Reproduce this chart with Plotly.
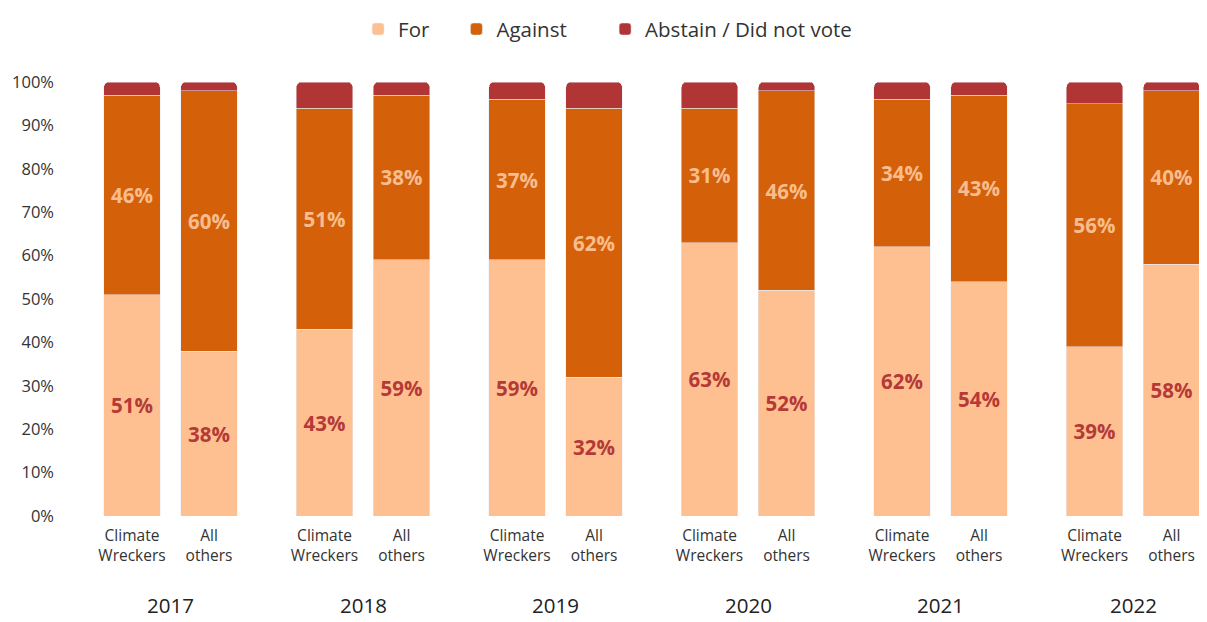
import plotly.graph_objects as go

years = ["2017", "2018", "2019", "2020", "2021", "2022"]
groups = ["Climate<br>Wreckers", "All<br>others"]

for_vals = [51, 38, 43, 59, 59, 32, 63, 52, 62, 54, 39, 58]
against_vals = [46, 60, 51, 38, 37, 62, 31, 46, 34, 43, 56, 40]
abstain_vals = [3, 2, 6, 3, 4, 6, 6, 2, 4, 3, 5, 2]

# positions: each year group holds two bars with a gap between groups
x_pos = []
tick_text = []
for gi, y in enumerate(years):
    for bi, g in enumerate(groups):
        x_pos.append(gi * 2.5 + bi)
        tick_text.append(g)

font_family = "Open Sans, Lato, sans-serif"
c_for = "#FFC091"
c_against = "#D5600A"
c_abstain = "#B23535"

fig = go.Figure()
fig.add_trace(go.Bar(
    x=x_pos, y=for_vals, name="For", marker_color=c_for,
    text=[f"{v}%" for v in for_vals], textposition="inside",
    insidetextanchor="middle",
    textfont=dict(color="#B53A37", size=20.5, family=font_family, weight="bold"),
    width=0.73, legend="legend", showlegend=True,
))
fig.add_trace(go.Bar(
    x=x_pos, y=against_vals, name="Against", marker_color=c_against,
    text=[f"{v}%" for v in against_vals], textposition="inside",
    insidetextanchor="middle",
    textfont=dict(color="#F8BD8E", size=20.5, family=font_family, weight="bold"),
    width=0.73, legend="legend2", showlegend=True,
))
fig.add_trace(go.Bar(
    x=x_pos, y=abstain_vals, name="Abstain / Did not vote", marker_color=c_abstain,
    width=0.73, legend="legend3", showlegend=True,
))

for gi, y in enumerate(years):
    fig.add_annotation(
        x=gi * 2.5 + 0.5, y=-0.205, xref="x", yref="paper",
        text=y, showarrow=False, yanchor="middle",
        font=dict(size=20.5, color="#222", family=font_family),
    )

def leg(xpos):
    return dict(
        orientation="h", x=xpos, xanchor="left", xref="container",
        y=0.998, yanchor="top", yref="container",
        font=dict(size=20.5, color="#333"),
    )

fig.update_layout(
    showlegend=True,
    barmode="stack",
    barcornerradius=5,
    width=1199, height=614,
    margin=dict(l=57, r=0, t=74, b=106, autoexpand=False),
    plot_bgcolor="white", paper_bgcolor="white",
    uniformtext=dict(minsize=10, mode="show"),
    font=dict(family=font_family, color="#333"),
    legend=leg(0.292),
    legend2=leg(0.374),
    legend3=leg(0.498),
    xaxis=dict(
        tickmode="array", tickvals=x_pos, ticktext=tick_text,
        range=[-0.87, 13.96], showgrid=False, zeroline=False, showline=False,
        tickfont=dict(size=15.5, color="#333"), ticks="", automargin=False,
        ticklabelstandoff=8,
    ),
    yaxis=dict(
        range=[0, 100], tickvals=list(range(0, 101, 10)),
        ticktext=[f"{v}%" for v in range(0, 101, 10)],
        showgrid=False, zeroline=False, showline=False,
        tickfont=dict(size=16.5, color="#333"), ticks="", automargin=False,
        ticklabelstandoff=10,
    ),
)

fig.write_html("out.html")
